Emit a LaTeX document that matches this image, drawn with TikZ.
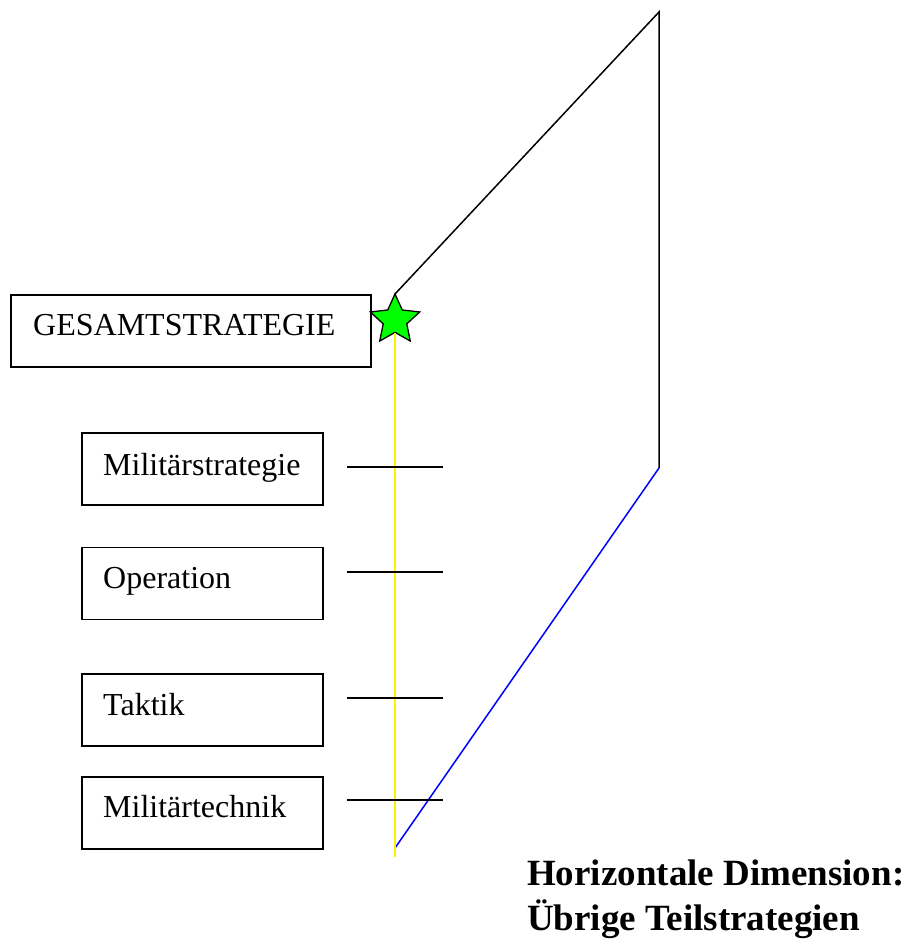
\documentclass[tikz,border=0pt]{standalone}
\usepackage{fontspec}
\setmainfont{Liberation Serif}
\usetikzlibrary{shapes.geometric}

\begin{document}
\begin{tikzpicture}[x=1pt, y=-1pt,
        box/.style={draw, line width=1.7pt, minimum width=241pt, minimum height=72pt, inner sep=0pt},
        lbl/.style={anchor=base west, inner sep=0pt, font=\fontsize{32}{38}\selectfont},
        tick/.style={line width=1.5pt}]
        % page: 909 x 945, y runs downwards
        \useasboundingbox (0,0) rectangle (909,945);
        \def\tl{347}
        \def\tr{443}

        % Corner points of the frame
        \coordinate (P) at (395,294);
        \coordinate (Q) at (659,12);
        \coordinate (R) at (659,468);
        \coordinate (S) at (395,848);
        \coordinate (Y) at (395,857);

        % Top box
        \node[box, minimum width=360pt] (gesamt) at (191,331) {};
        \node[lbl] (gesamtlbl) at (33,335) {GESAMTSTRATEGIE};

        % Lower boxes
        \node[box] (mil) at (202.5,469) {};
        \node[lbl] (millbl) at (103,475) {Militärstrategie};
        \node[box] (op) at (202.5,583.5) {};
        \node[lbl] (oplbl) at (103,588) {Operation};
        \node[box] (tak) at (202.5,710) {};
        \node[lbl] (taklbl) at (103,715) {Taktik};
        \node[box] (tech) at (202.5,813) {};
        \node[lbl] (techlbl) at (103,817) {Militärtechnik};

        % Frame: black upper part, blue lower part
        \draw[line width=1.5pt] (P) -- (Q) -- (R);
        \draw[line width=1.5pt, blue] (R) -- (S);

        % Star and yellow axis
        \node[star, star points=5, star point ratio=2.1, minimum size=52pt, inner sep=0pt,
              draw, line width=1.3pt, fill=green] (stern) at (395,320) {};
        \draw[line width=1.5pt, yellow] (stern.south) -- (Y);

        % Ticks
        \foreach \y/\n in {467/a, 572/b, 698/c, 800/d} {
            \coordinate (t\n l) at (\tl,\y);
            \coordinate (t\n r) at (\tr,\y);
            \draw[tick] (t\n l) -- (t\n r);
        }

        % Caption
        \node[anchor=base west, inner sep=0pt, font=\fontsize{37}{44}\selectfont\bfseries] (capa) at (527,885) {Horizontale Dimension:};
        \node[anchor=base west, inner sep=0pt, font=\fontsize{37}{44}\selectfont\bfseries] (capb) at (527,930) {Übrige Teilstrategien};
    \end{tikzpicture}
\end{document}
